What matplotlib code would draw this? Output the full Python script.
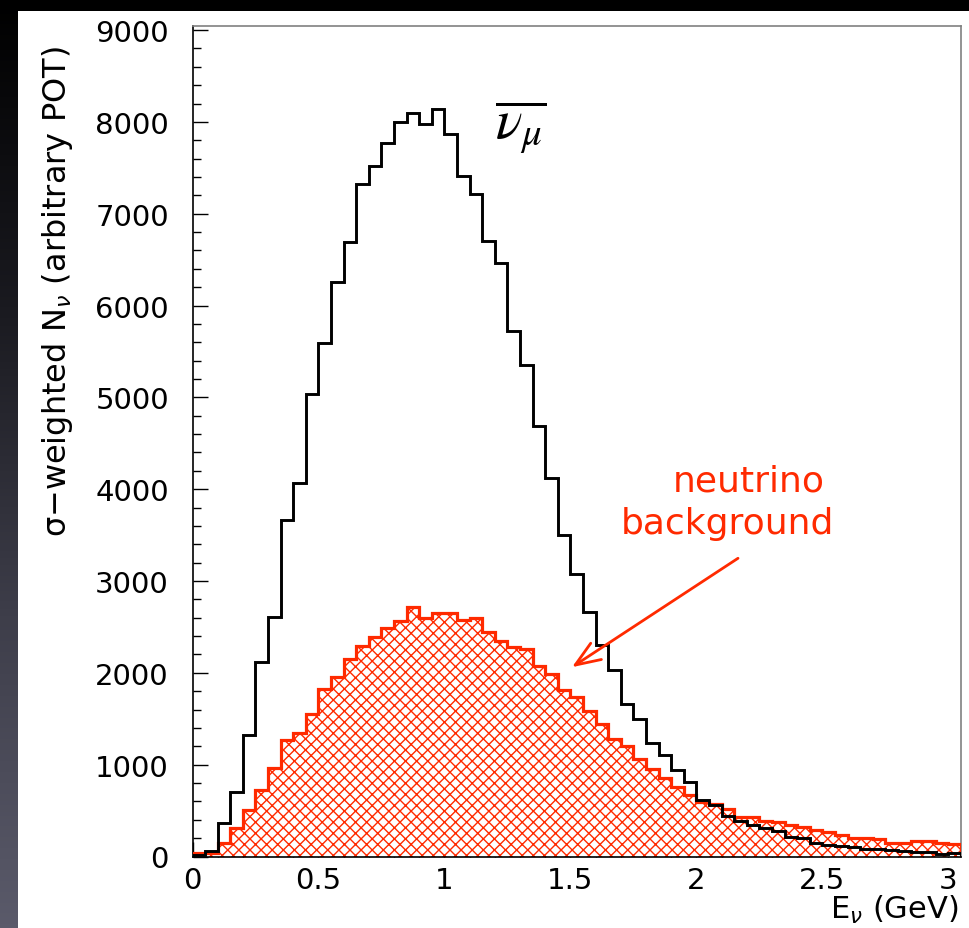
import numpy as np
import matplotlib
matplotlib.use("Agg")
import matplotlib.pyplot as plt
from matplotlib.patches import Rectangle
from matplotlib.ticker import MultipleLocator, FixedLocator
from matplotlib.colors import LinearSegmentedColormap

# ---------------- data ----------------
bin_edges = np.round(np.arange(0, 3.0501, 0.05), 2)  # 61 bins, 0 .. 3.05 GeV

numubar = [20, 65, 370, 700, 1320, 2120, 2610, 3670, 4065, 5040,
           5590, 6260, 6695, 7320, 7520, 7775, 8000, 8095, 7980, 8140,
           7865, 7415, 7220, 6700, 6465, 5720, 5355, 4690, 4125, 3505,
           3080, 2665, 2300, 2035, 1665, 1495, 1240, 1100, 940, 815,
           615, 560, 445, 390, 345, 305, 275, 214, 203, 152,
           130, 116, 105, 87, 87, 69, 58, 51, 44, 25,
           33]

nu_background = [35, 35, 150, 305, 510, 720, 965, 1265, 1350, 1555,
                 1820, 1960, 2155, 2295, 2390, 2490, 2570, 2715, 2600, 2650,
                 2650, 2580, 2595, 2445, 2345, 2280, 2255, 2075, 1990, 1810,
                 1740, 1585, 1445, 1285, 1200, 1065, 950, 850, 760, 665,
                 590, 570, 520, 432, 432, 388, 377, 348, 316, 294,
                 269, 232, 203, 198, 190, 149, 149, 174, 174, 149,
                 134]

x_ticks = [0, 0.5, 1, 1.5, 2, 2.5, 3]
x_tick_labels = ["0", "0.5", "1", "1.5", "2", "2.5", "3"]
y_ticks = [0, 1000, 2000, 3000, 4000, 5000, 6000, 7000, 8000, 9000]
y_tick_labels = [str(v) for v in y_ticks]

RED = "#ff2a00"

plt.rcParams["hatch.linewidth"] = 1.0
plt.rcParams["font.family"] = ["DejaVu Sans"]

W, H = 969, 929
fig = plt.figure(figsize=(W / 100, H / 100), dpi=100, facecolor="black")

# slide-like background: dark gradient strip on the left, white panel
grad_ax = fig.add_axes([0, 0, 18 / W, 1], zorder=-5)
grad = np.linspace(0, 1, 256).reshape(-1, 1)
cmap = LinearSegmentedColormap.from_list("bg", ["#5a5a6a", "#3e3e4a", "#1a1a20", "#000000"])
grad_ax.imshow(grad, aspect="auto", cmap=cmap, origin="lower", extent=[0, 1, 0, 1])
grad_ax.axis("off")
bg = Rectangle((18 / W, 0), 1 - 18 / W, (H - 12) / H,
               transform=fig.transFigure, facecolor="white",
               edgecolor="none", zorder=-4)
fig.patches.append(bg)

ax = fig.add_axes([192.5 / W, 1 - 857.5 / H, (961 - 192.5) / W, (857.5 - 27) / H], zorder=1)
ax.set_facecolor("white")

ax.stairs(nu_background, bin_edges, baseline=0, fill=True, facecolor="white",
          edgecolor=RED, hatch="xxx", linewidth=0, zorder=2)
ax.stairs(nu_background, bin_edges, baseline=0, fill=False,
          edgecolor=RED, linewidth=2.3, zorder=3)
ax.stairs(numubar, bin_edges, baseline=0, fill=False,
          edgecolor="black", linewidth=2.1, zorder=4)

ax.set_xlim(0, 3.05)
ax.set_ylim(0, 9045)

ax.xaxis.set_major_locator(FixedLocator(x_ticks))
ax.set_xticklabels(x_tick_labels)
ax.xaxis.set_minor_locator(MultipleLocator(0.1))
ax.yaxis.set_major_locator(FixedLocator(y_ticks))
ax.set_yticklabels(y_tick_labels)
ax.yaxis.set_minor_locator(MultipleLocator(200))

ax.tick_params(which="both", direction="in", top=False, right=False,
               labelsize=21, width=1.0, color="black")
ax.tick_params(which="major", length=11)
ax.tick_params(which="minor", length=5.5)
ax.tick_params(axis="y", which="major", pad=17)
ax.tick_params(axis="x", which="major", pad=7)

for side in ["top", "right"]:
    ax.spines[side].set_color("#808080")
    ax.spines[side].set_linewidth(1.2)
for side in ["left", "bottom"]:
    ax.spines[side].set_color("black")
    ax.spines[side].set_linewidth(1.2)

# axis titles
fig.text(58 / W, 1 - 292 / H, r"σ−weighted N$_{\nu}$ (arbitrary POT)",
         rotation=90, ha="center", va="center", fontsize=23,
         family=["DejaVu Sans"], zorder=5)
fig.text(958 / W, 1 - 910 / H, r"E$_{\nu}$ (GeV)", ha="right", va="center",
         fontsize=22, family=["DejaVu Sans"], zorder=5)

# annotations
ax.text(1.30, 7950, r"$\overline{\nu_{\mu}}$", fontsize=40, ha="center",
        va="center", math_fontfamily="stix", color="black", zorder=6)
ax.text(2.208, 4097, "neutrino", color=RED, fontsize=26, ha="center", va="center", zorder=6)
ax.text(2.125, 3629, "background", color=RED, fontsize=26, ha="center", va="center", zorder=6)
ax.annotate("", xy=(1.506, 2062), xytext=(2.165, 3248),
            arrowprops=dict(arrowstyle="->,head_length=1.8,head_width=0.7",
                            color=RED, lw=2.0, shrinkA=0, shrinkB=0), zorder=6)

fig.savefig("out.png", dpi=100, facecolor=fig.get_facecolor())
